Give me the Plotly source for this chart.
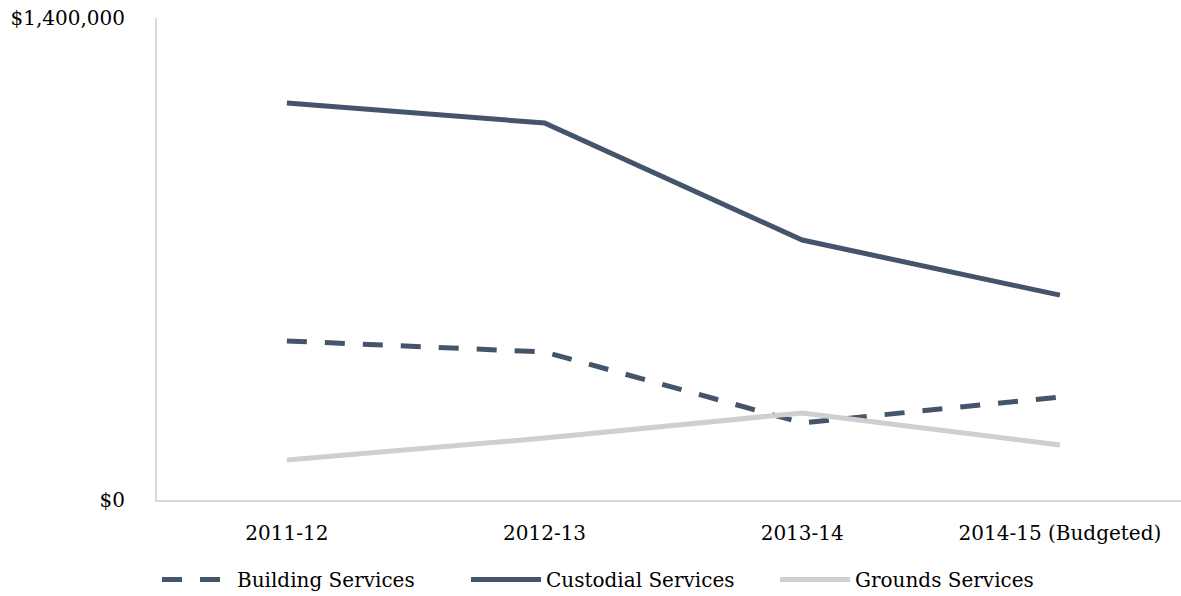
import plotly.graph_objects as go

categories = ["2011-12", "2012-13", "2013-14", "2014-15 (Budgeted)"]
building = [462000, 430000, 224000, 299000]
custodial = [1153000, 1095000, 755000, 595000]
grounds = [116000, 180000, 253000, 160000]
ytick_vals = [0, 1400000]
ytick_text = ["$0", "$1,400,000"]

dark = "#44546A"
light = "#D0CECE"
FONT = "DejaVu Serif"

fig = go.Figure()
fig.add_trace(go.Scatter(x=categories, y=building, name="Building Services", mode="lines",
                         line=dict(color=dark, width=5, dash="20px,18px")))
fig.add_trace(go.Scatter(x=categories, y=custodial, name="Custodial Services", mode="lines",
                         line=dict(color=dark, width=5)))
fig.add_trace(go.Scatter(x=categories, y=grounds, name="Grounds Services", mode="lines",
                         line=dict(color=light, width=5)))

fig.update_layout(
    width=1181, height=596,
    margin=dict(l=157, r=0, t=18, b=96, autoexpand=False),
    plot_bgcolor="white", paper_bgcolor="white",
    font=dict(family=FONT, size=20, color="#000000"),
    showlegend=True,
    legend=dict(orientation="h", x=0.0, xanchor="left", y=-0.165, yanchor="middle",
                itemwidth=70, entrywidth=224, entrywidthmode="pixels",
                font=dict(family=FONT, size=20), traceorder="normal"),
    xaxis=dict(type="category", range=[-0.504, 3.47], showgrid=False, zeroline=False,
               showline=True, linecolor="#D9D9D9", linewidth=2, automargin=False,
               ticks="", ticklabelstandoff=14, tickfont=dict(family=FONT, size=20)),
    yaxis=dict(range=[0, 1400000], tickvals=ytick_vals, ticktext=ytick_text,
               showgrid=False, zeroline=False, showline=True, linecolor="#D9D9D9",
               linewidth=2, ticks="", ticklabelstandoff=26, automargin=False,
               tickfont=dict(family=FONT, size=20)),
)

fig.write_html("out.html")
